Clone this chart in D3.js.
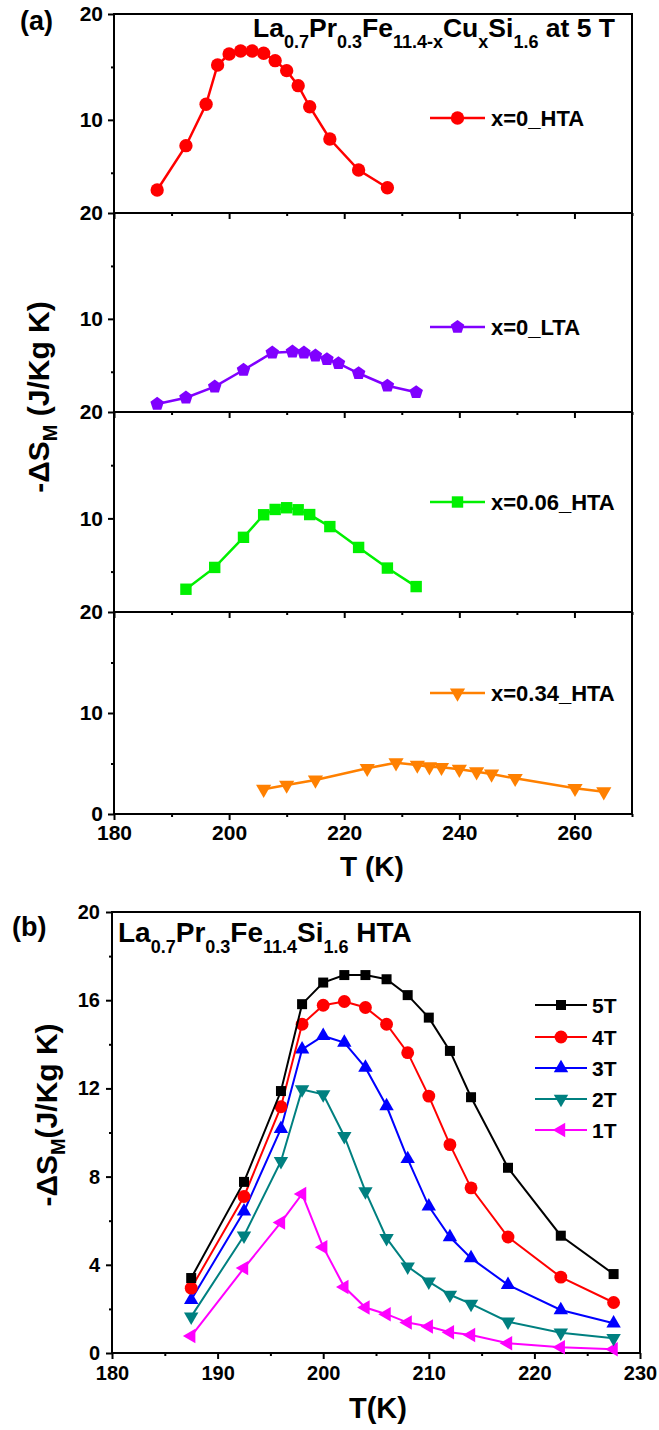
<!DOCTYPE html>
<html>
<head>
<meta charset="utf-8">
<script src="https://cdn.jsdelivr.net/npm/d3@7"></script>
<style>
    body { margin: 0; background: #ffffff; }
    svg text { font-family: "Liberation Sans", Arial, sans-serif; font-weight: bold; fill: #000; }
</style>
</head>
<body>
<script>
// PANEL (a) data: temperature (K) and -dS_M (J/Kg K) at 5 T
let tempA1 = [187.5, 192.5, 196, 198, 200, 202, 204, 206, 208, 210, 212, 214, 217.5, 222.5, 227.5];
let dsA1 = [3.37, 7.56, 11.47, 15.18, 16.22, 16.5, 16.5, 16.29, 15.59, 14.65, 13.23, 11.24, 8.19, 5.26, 3.59];

let tempA2 = [187.5, 192.5, 197.5, 202.5, 207.5, 211, 213, 215, 217, 219, 222.5, 227.5, 232.5];
let dsA2 = [1.96, 2.55, 3.59, 5.17, 6.8, 6.9, 6.8, 6.52, 6.18, 5.8, 4.86, 3.68, 3.06];

let tempA3 = [192.5, 197.5, 202.5, 206, 208, 210, 212, 214, 217.5, 222.5, 227.5, 232.5];
let dsA3 = [3.34, 5.39, 8.22, 10.34, 10.84, 11.0, 10.81, 10.36, 9.23, 7.27, 5.33, 3.59];

let tempA4 = [206, 210, 215, 224, 229, 232.7, 234.8, 236.9, 240, 243, 245.6, 249.7, 260.1, 265.1];
let dsA4 = [2.45, 2.87, 3.37, 4.52, 5.08, 4.85, 4.68, 4.62, 4.43, 4.19, 3.96, 3.53, 2.54, 2.21];

let namesA = ["x=0_HTA", "x=0_LTA", "x=0.06_HTA", "x=0.34_HTA"];

// PANEL (b) data: x=0 HTA sample at several fields
let tempB = [187.5, 192.5, 196, 198, 200, 202, 204, 206, 208, 210, 212, 214, 217.5, 222.5, 227.5];
let ds5T = [3.4, 7.76, 11.88, 15.82, 16.8, 17.14, 17.14, 16.95, 16.23, 15.21, 13.7, 11.6, 8.4, 5.32, 3.58];
let ds4T = [2.94, 7.1, 11.17, 14.91, 15.77, 15.94, 15.67, 14.91, 13.62, 11.65, 9.45, 7.49, 5.26, 3.44, 2.29];
let ds3T = [2.41, 6.42, 10.17, 13.77, 14.38, 14.08, 12.94, 11.2, 8.8, 6.65, 5.26, 4.3, 3.09, 1.95, 1.35];
let ds2T = [1.65, 5.32, 8.7, 11.95, 11.73, 9.83, 7.33, 5.21, 3.92, 3.24, 2.64, 2.23, 1.42, 0.92, 0.67];
let ds1T = [0.77, 3.85, 5.92, 7.21, 4.8, 2.99, 2.06, 1.76, 1.38, 1.2, 0.94, 0.82, 0.44, 0.26, 0.17];

let namesB = ["5T", "4T", "3T", "2T", "1T"];

// tick values
let ticksXA = [180, 200, 220, 240, 260];
let minorXA = [190, 210, 230, 250, 270];
let ticksXB = [180, 190, 200, 210, 220, 230];
let minorXB = [185, 195, 205, 215, 225];
let ticksYB = [0, 4, 8, 12, 16, 20];
let minorYB = [2, 6, 10, 14, 18];

// pentagon marker for d3.symbol
let symbolPentagon = {
    draw: function (context, size) {
        let r = Math.sqrt(size / 2.378);
        for (let i = 0; i < 5; i++) {
            let a = -Math.PI / 2 + i * 2 * Math.PI / 5;
            if (i === 0) context.moveTo(r * Math.cos(a), r * Math.sin(a));
            else context.lineTo(r * Math.cos(a), r * Math.sin(a));
        }
        context.closePath();
    }
};

let svg = d3.select("body").append("svg")
    .attr("width", 659)
    .attr("height", 1430);

svg.append("rect").attr("width", 659).attr("height", 1430).attr("fill", "#ffffff");

function styleAxis(g, fontSize) {
    g.select(".domain").remove();
    g.selectAll("line").attr("stroke", "#000").attr("stroke-width", 2);
    g.selectAll("text").style("font-size", fontSize + "px");
}

function drawSeries(g, x, y, temps, vals, color, marker, width) {
    let pts = temps.map(function (t, i) { return [t, vals[i]]; });
    let line = d3.line()
        .x(function (d) { return x(d[0]); })
        .y(function (d) { return y(d[1]); });
    g.append("path")
        .datum(pts)
        .attr("fill", "none")
        .attr("stroke", color)
        .attr("stroke-width", width)
        .attr("d", line);
    g.selectAll(null)
        .data(pts)
        .enter().append("path")
        .attr("transform", function (d) {
            return "translate(" + x(d[0]) + "," + y(d[1]) + ") rotate(" + marker.rot + ")";
        })
        .attr("fill", color)
        .attr("d", d3.symbol().type(marker.type).size(marker.size));
}

function drawLegendItem(g, x0, x1, yy, tx, label, color, marker, width, fontSize) {
    g.append("line")
        .attr("x1", x0).attr("x2", x1).attr("y1", yy).attr("y2", yy)
        .attr("stroke", color).attr("stroke-width", width);
    g.append("path")
        .attr("transform", "translate(" + ((x0 + x1) / 2) + "," + yy + ") rotate(" + marker.rot + ")")
        .attr("fill", color)
        .attr("d", d3.symbol().type(marker.type).size(marker.size));
    g.append("text")
        .attr("x", tx).attr("y", yy + fontSize * 0.36)
        .style("font-size", fontSize + "px")
        .text(label);
}

// ---------------- PANEL (a) ----------------
let xA = d3.scaleLinear().domain([180, 270]).range([114, 632]);
let rowsA = [[14, 213, 1.2], [213, 412, 1.2], [412, 612, 1.2], [612, 814, 0]];
let dataA = [[tempA1, dsA1], [tempA2, dsA2], [tempA3, dsA3], [tempA4, dsA4]];
let colorsA = ["#ff0000", "#8000ff", "#00f000", "#ff8000"];
let markersA = [
    {type: d3.symbolCircle, size: 140, rot: 0},
    {type: symbolPentagon, size: 120, rot: 0},
    {type: d3.symbolSquare, size: 130, rot: 0},
    {type: d3.symbolTriangle, size: 100, rot: 180}
];
let legendYA = [118, 327, 502, 693];

rowsA.forEach(function (row, i) {
    let top = row[0], bottom = row[1];
    let y = d3.scaleLinear().domain([row[2], 20]).range([bottom, top]);
    let g = svg.append("g");

    g.append("rect")
        .attr("x", 114).attr("y", top)
        .attr("width", 632 - 114).attr("height", bottom - top)
        .attr("fill", "none").attr("stroke", "#000").attr("stroke-width", 2);

    // left axis
    g.append("g")
        .attr("transform", "translate(114,0)")
        .call(d3.axisLeft(y).tickValues(i === 3 ? [0, 10, 20] : [10, 20]).tickSize(6).tickPadding(5))
        .call(styleAxis, 21);
    g.append("g")
        .attr("transform", "translate(114,0)")
        .call(d3.axisLeft(y).tickValues([5, 15]).tickSize(3).tickFormat(""))
        .call(styleAxis, 21);

    // bottom axis
    g.append("g")
        .attr("transform", "translate(0," + bottom + ")")
        .call(d3.axisBottom(xA).tickValues(ticksXA).tickSize(6).tickPadding(5)
            .tickFormat(i === 3 ? d3.format("d") : ""))
        .call(styleAxis, 21);
    g.append("g")
        .attr("transform", "translate(0," + bottom + ")")
        .call(d3.axisBottom(xA).tickValues(minorXA).tickSize(3).tickFormat(""))
        .call(styleAxis, 21);

    drawSeries(g, xA, y, dataA[i][0], dataA[i][1], colorsA[i], markersA[i], 2.5);
    drawLegendItem(g, 430, 485, legendYA[i], 491, namesA[i], colorsA[i], markersA[i], 2.5, 22);
});

// title (a)
let titleA = svg.append("text").attr("x", 253).attr("y", 37).style("font-size", "26.5px");
[["La", 0], ["0.7", 1], ["Pr", 0], ["0.3", 1], ["Fe", 0], ["11.4-x", 1], ["Cu", 0], ["x", 1], ["Si", 0], ["1.6", 1], [" at 5 T", 0]]
    .forEach(function (p, k, arr) {
        let prev = k > 0 ? arr[k - 1][1] : 0;
        titleA.append("tspan")
            .attr("dy", (p[1] - prev) * 11)
            .style("font-size", p[1] ? "18px" : "26.5px")
            .text(p[0]);
    });

svg.append("text").attr("x", 20).attr("y", 30).style("font-size", "27px").text("(a)");

// axis titles (a)
svg.append("text")
    .attr("x", 372).attr("y", 876)
    .attr("text-anchor", "middle")
    .style("font-size", "28px")
    .text("T (K)");

let yTitleA = svg.append("text")
    .attr("transform", "translate(49,397) rotate(-90)")
    .attr("text-anchor", "middle")
    .style("font-size", "30px");
yTitleA.append("tspan").text("-\u0394S");
yTitleA.append("tspan").attr("dy", 8).style("font-size", "20px").text("M");
yTitleA.append("tspan").attr("dy", -8).text(" (J/Kg K)");

// ---------------- PANEL (b) ----------------
let xB = d3.scaleLinear().domain([180, 230]).range([112, 640]);
let yB = d3.scaleLinear().domain([0, 20]).range([1353, 912]);
let gB = svg.append("g");

gB.append("rect")
    .attr("x", 112).attr("y", 912)
    .attr("width", 640 - 112).attr("height", 1353 - 912)
    .attr("fill", "none").attr("stroke", "#000").attr("stroke-width", 2);

gB.append("g")
    .attr("transform", "translate(112,0)")
    .call(d3.axisLeft(yB).tickValues(ticksYB).tickSize(6).tickPadding(6))
    .call(styleAxis, 20);
gB.append("g")
    .attr("transform", "translate(112,0)")
    .call(d3.axisLeft(yB).tickValues(minorYB).tickSize(3).tickFormat(""))
    .call(styleAxis, 20);
gB.append("g")
    .attr("transform", "translate(0,1353)")
    .call(d3.axisBottom(xB).tickValues(ticksXB).tickSize(6).tickPadding(7))
    .call(styleAxis, 20);
gB.append("g")
    .attr("transform", "translate(0,1353)")
    .call(d3.axisBottom(xB).tickValues(minorXB).tickSize(3).tickFormat(""))
    .call(styleAxis, 20);

let dataB = [ds5T, ds4T, ds3T, ds2T, ds1T];
let colorsB = ["#000000", "#ff0000", "#0000ff", "#008080", "#ff00ff"];
let markersB = [
    {type: d3.symbolSquare, size: 100, rot: 0},
    {type: d3.symbolCircle, size: 130, rot: 0},
    {type: d3.symbolTriangle, size: 90, rot: 0},
    {type: d3.symbolTriangle, size: 90, rot: 180},
    {type: d3.symbolTriangle, size: 90, rot: -90}
];
let legendYB = [1005, 1037, 1068, 1099, 1130];

// draw lowest field first so 5T sits on top
for (let i = dataB.length - 1; i >= 0; i--) {
    drawSeries(gB, xB, yB, tempB, dataB[i], colorsB[i], markersB[i], 2);
}
namesB.forEach(function (n, i) {
    drawLegendItem(gB, 535, 587, legendYB[i], 592, n, colorsB[i], markersB[i], 2, 21);
});

// title (b)
let titleB = svg.append("text").attr("x", 118).attr("y", 942).style("font-size", "28px");
[["La", 0], ["0.7", 1], ["Pr", 0], ["0.3", 1], ["Fe", 0], ["11.4", 1], ["Si", 0], ["1.6", 1], [" HTA", 0]]
    .forEach(function (p, k, arr) {
        let prev = k > 0 ? arr[k - 1][1] : 0;
        titleB.append("tspan")
            .attr("dy", (p[1] - prev) * 11)
            .style("font-size", p[1] ? "18px" : "28px")
            .text(p[0]);
    });

svg.append("text").attr("x", 12).attr("y", 936).style("font-size", "27px").text("(b)");

svg.append("text")
    .attr("x", 378).attr("y", 1418)
    .attr("text-anchor", "middle")
    .style("font-size", "29px")
    .text("T(K)");

let yTitleB = svg.append("text")
    .attr("transform", "translate(57,1115) rotate(-90)")
    .attr("text-anchor", "middle")
    .style("font-size", "30px");
yTitleB.append("tspan").text("-\u0394S");
yTitleB.append("tspan").attr("dy", 8).style("font-size", "20px").text("M");
yTitleB.append("tspan").attr("dy", -8).text("(J/Kg K)");
</script>
</body>
</html>
